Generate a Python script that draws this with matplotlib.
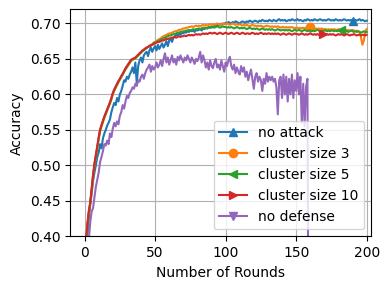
import matplotlib
matplotlib.use("Agg")
import matplotlib.pyplot as plt

rounds = list(range(1, 201))

no_attack = [
    0.370, 0.400, 0.425, 0.445, 0.460, 0.478, 0.490, 0.500, 0.512, 0.518,
    0.530, 0.524, 0.538, 0.545, 0.550, 0.556, 0.560, 0.565, 0.575, 0.582,
    0.588, 0.585, 0.595, 0.590, 0.600, 0.605, 0.612, 0.620, 0.618, 0.625,
    0.622, 0.628, 0.632, 0.638, 0.630, 0.645, 0.615, 0.640, 0.648, 0.652,
    0.645, 0.655, 0.658, 0.660, 0.654, 0.662, 0.666, 0.660, 0.665, 0.668,
    0.662, 0.670, 0.664, 0.668, 0.672, 0.666, 0.670, 0.675, 0.668, 0.676,
    0.678, 0.674, 0.680, 0.682, 0.684, 0.683, 0.686, 0.684, 0.687, 0.686,
    0.688, 0.687, 0.689, 0.688, 0.690, 0.689, 0.690, 0.688, 0.691, 0.690,
    0.691, 0.692, 0.690, 0.693, 0.692, 0.694, 0.693, 0.695, 0.694, 0.696,
    0.695, 0.697, 0.696, 0.698, 0.697, 0.699, 0.698, 0.700, 0.699, 0.701,
    0.700, 0.702, 0.701, 0.700, 0.702, 0.701, 0.703, 0.702, 0.701, 0.700,
    0.702, 0.703, 0.702, 0.701, 0.703, 0.702, 0.704, 0.703, 0.702, 0.703,
    0.704, 0.703, 0.702, 0.704, 0.703, 0.705, 0.704, 0.703, 0.704, 0.703,
    0.705, 0.704, 0.703, 0.705, 0.704, 0.703, 0.705, 0.706, 0.704, 0.705,
    0.704, 0.705, 0.703, 0.704, 0.705, 0.704, 0.706, 0.705, 0.704, 0.705,
    0.706, 0.704, 0.705, 0.704, 0.703, 0.705, 0.704, 0.706, 0.705, 0.704,
    0.705, 0.704, 0.706, 0.705, 0.704, 0.705, 0.706, 0.705, 0.704, 0.705,
    0.704, 0.705, 0.706, 0.705, 0.704, 0.705, 0.704, 0.706, 0.705, 0.704,
    0.705, 0.704, 0.705, 0.706, 0.705, 0.704, 0.705, 0.704, 0.705, 0.703,
    0.704, 0.705, 0.704, 0.705, 0.706, 0.704, 0.705, 0.704, 0.703, 0.704,
]

cluster3 = [
    0.390, 0.415, 0.433, 0.446, 0.464, 0.484, 0.500, 0.513, 0.525, 0.537,
    0.548, 0.555, 0.561, 0.567, 0.572, 0.577, 0.582, 0.587, 0.593, 0.600,
    0.605, 0.609, 0.613, 0.617, 0.621, 0.624, 0.628, 0.632, 0.635, 0.638,
    0.641, 0.644, 0.647, 0.649, 0.650, 0.651, 0.653, 0.655, 0.657, 0.659,
    0.661, 0.663, 0.664, 0.666, 0.667, 0.669, 0.670, 0.671, 0.673, 0.674,
    0.675, 0.677, 0.678, 0.679, 0.681, 0.682, 0.683, 0.684, 0.685, 0.686,
    0.686, 0.687, 0.688, 0.689, 0.689, 0.690, 0.691, 0.691, 0.692, 0.693,
    0.693, 0.694, 0.694, 0.695, 0.695, 0.696, 0.695, 0.696, 0.697, 0.696,
    0.697, 0.696, 0.697, 0.698, 0.697, 0.698, 0.697, 0.698, 0.699, 0.698,
    0.699, 0.698, 0.699, 0.700, 0.699, 0.698, 0.699, 0.700, 0.699, 0.699,
    0.700, 0.699, 0.698, 0.699, 0.700, 0.699, 0.698, 0.699, 0.698, 0.699,
    0.698, 0.697, 0.698, 0.697, 0.698, 0.697, 0.696, 0.697, 0.698, 0.697,
    0.697, 0.696, 0.697, 0.696, 0.697, 0.696, 0.695, 0.696, 0.697, 0.696,
    0.696, 0.695, 0.696, 0.695, 0.696, 0.695, 0.696, 0.695, 0.694, 0.695,
    0.695, 0.694, 0.695, 0.694, 0.695, 0.694, 0.695, 0.694, 0.693, 0.694,
    0.694, 0.693, 0.694, 0.693, 0.694, 0.693, 0.694, 0.695, 0.696, 0.695,
    0.694, 0.693, 0.692, 0.693, 0.692, 0.693, 0.692, 0.693, 0.692, 0.692,
    0.692, 0.691, 0.692, 0.691, 0.692, 0.691, 0.692, 0.691, 0.691, 0.692,
    0.691, 0.690, 0.691, 0.690, 0.691, 0.690, 0.691, 0.690, 0.690, 0.691,
    0.690, 0.689, 0.690, 0.689, 0.688, 0.680, 0.670, 0.676, 0.689, 0.692,
]

cluster5 = [
    0.392, 0.416, 0.434, 0.447, 0.465, 0.485, 0.501, 0.514, 0.526, 0.538,
    0.549, 0.556, 0.562, 0.568, 0.573, 0.578, 0.583, 0.588, 0.594, 0.601,
    0.606, 0.610, 0.614, 0.618, 0.621, 0.625, 0.628, 0.632, 0.636, 0.639,
    0.642, 0.645, 0.648, 0.649, 0.650, 0.651, 0.653, 0.655, 0.657, 0.659,
    0.661, 0.662, 0.664, 0.665, 0.667, 0.668, 0.669, 0.670, 0.672, 0.673,
    0.674, 0.675, 0.676, 0.677, 0.678, 0.679, 0.680, 0.681, 0.682, 0.683,
    0.683, 0.684, 0.685, 0.685, 0.686, 0.687, 0.687, 0.688, 0.688, 0.689,
    0.689, 0.690, 0.690, 0.691, 0.690, 0.691, 0.692, 0.691, 0.692, 0.692,
    0.693, 0.692, 0.693, 0.694, 0.693, 0.694, 0.693, 0.694, 0.695, 0.694,
    0.695, 0.694, 0.695, 0.696, 0.695, 0.694, 0.695, 0.696, 0.695, 0.695,
    0.694, 0.695, 0.694, 0.695, 0.694, 0.693, 0.694, 0.695, 0.694, 0.693,
    0.694, 0.693, 0.694, 0.693, 0.692, 0.693, 0.694, 0.693, 0.692, 0.693,
    0.692, 0.693, 0.692, 0.691, 0.692, 0.693, 0.692, 0.691, 0.692, 0.691,
    0.692, 0.691, 0.692, 0.691, 0.690, 0.691, 0.692, 0.691, 0.690, 0.691,
    0.691, 0.690, 0.691, 0.690, 0.691, 0.690, 0.689, 0.690, 0.691, 0.690,
    0.690, 0.691, 0.690, 0.689, 0.690, 0.691, 0.690, 0.689, 0.690, 0.690,
    0.689, 0.690, 0.689, 0.690, 0.691, 0.690, 0.689, 0.690, 0.689, 0.690,
    0.690, 0.689, 0.690, 0.689, 0.690, 0.690, 0.689, 0.690, 0.689, 0.690,
    0.690, 0.691, 0.690, 0.689, 0.690, 0.689, 0.688, 0.689, 0.690, 0.689,
    0.688, 0.689, 0.688, 0.689, 0.688, 0.687, 0.688, 0.689, 0.688, 0.688,
]

cluster10 = [
    0.395, 0.418, 0.436, 0.448, 0.467, 0.487, 0.503, 0.515, 0.527, 0.540,
    0.551, 0.557, 0.563, 0.569, 0.574, 0.579, 0.584, 0.589, 0.595, 0.602,
    0.607, 0.611, 0.615, 0.619, 0.622, 0.626, 0.629, 0.633, 0.637, 0.640,
    0.643, 0.646, 0.649, 0.650, 0.651, 0.652, 0.654, 0.656, 0.658, 0.660,
    0.662, 0.663, 0.665, 0.666, 0.667, 0.668, 0.669, 0.670, 0.671, 0.672,
    0.673, 0.674, 0.674, 0.675, 0.676, 0.676, 0.677, 0.678, 0.678, 0.679,
    0.679, 0.680, 0.680, 0.681, 0.680, 0.681, 0.682, 0.681, 0.682, 0.682,
    0.683, 0.682, 0.683, 0.684, 0.683, 0.684, 0.683, 0.684, 0.685, 0.684,
    0.685, 0.684, 0.685, 0.686, 0.685, 0.686, 0.685, 0.686, 0.687, 0.686,
    0.686, 0.687, 0.686, 0.685, 0.686, 0.687, 0.686, 0.685, 0.686, 0.687,
    0.686, 0.685, 0.686, 0.687, 0.686, 0.685, 0.686, 0.687, 0.686, 0.685,
    0.686, 0.687, 0.686, 0.685, 0.686, 0.686, 0.685, 0.686, 0.687, 0.686,
    0.685, 0.686, 0.685, 0.686, 0.687, 0.686, 0.685, 0.686, 0.685, 0.686,
    0.686, 0.685, 0.686, 0.685, 0.686, 0.685, 0.686, 0.685, 0.684, 0.685,
    0.686, 0.685, 0.684, 0.685, 0.686, 0.685, 0.684, 0.685, 0.686, 0.685,
    0.685, 0.684, 0.685, 0.686, 0.685, 0.684, 0.685, 0.684, 0.685, 0.686,
    0.685, 0.684, 0.685, 0.684, 0.685, 0.684, 0.685, 0.684, 0.685, 0.685,
    0.684, 0.685, 0.684, 0.685, 0.684, 0.685, 0.684, 0.683, 0.684, 0.685,
    0.684, 0.685, 0.684, 0.683, 0.684, 0.685, 0.684, 0.683, 0.684, 0.684,
    0.685, 0.684, 0.683, 0.684, 0.684, 0.683, 0.684, 0.684, 0.683, 0.684,
]

no_defense = [
    0.330, 0.370, 0.395, 0.420, 0.435, 0.440, 0.455, 0.470, 0.480, 0.490,
    0.505, 0.512, 0.520, 0.530, 0.528, 0.535, 0.530, 0.545, 0.540, 0.552,
    0.560, 0.555, 0.562, 0.558, 0.570, 0.575, 0.585, 0.580, 0.590, 0.598,
    0.595, 0.602, 0.605, 0.610, 0.608, 0.615, 0.612, 0.620, 0.618, 0.625,
    0.628, 0.622, 0.630, 0.635, 0.638, 0.642, 0.632, 0.640, 0.635, 0.638,
    0.645, 0.638, 0.642, 0.648, 0.640, 0.650, 0.658, 0.645, 0.652, 0.642,
    0.648, 0.655, 0.645, 0.650, 0.642, 0.653, 0.648, 0.655, 0.650, 0.645,
    0.652, 0.648, 0.655, 0.650, 0.645, 0.652, 0.648, 0.643, 0.650, 0.647,
    0.652, 0.660, 0.645, 0.655, 0.648, 0.638, 0.645, 0.635, 0.648, 0.640,
    0.637, 0.645, 0.650, 0.638, 0.642, 0.635, 0.648, 0.640, 0.632, 0.645,
    0.640, 0.648, 0.653, 0.640, 0.635, 0.642, 0.630, 0.638, 0.632, 0.628,
    0.640, 0.632, 0.638, 0.625, 0.632, 0.620, 0.628, 0.635, 0.622, 0.608,
    0.625, 0.630, 0.618, 0.625, 0.620, 0.605, 0.622, 0.615, 0.630, 0.618,
    0.625, 0.620, 0.625, 0.618, 0.622, 0.610, 0.572, 0.620, 0.625, 0.595,
    0.628, 0.600, 0.625, 0.590, 0.622, 0.600, 0.628, 0.595, 0.620, 0.605,
    0.630, 0.600, 0.625, 0.560, 0.615, 0.555, 0.610, 0.622, 0.100, 0.100,
    0.100, 0.100, 0.100, 0.100, 0.100, 0.100, 0.100, 0.100, 0.100, 0.100,
    0.100, 0.100, 0.100, 0.100, 0.100, 0.100, 0.100, 0.100, 0.100, 0.100,
    0.100, 0.100, 0.100, 0.100, 0.100, 0.100, 0.100, 0.100, 0.100, 0.100,
    0.100, 0.100, 0.100, 0.100, 0.100, 0.100, 0.100, 0.100, 0.100, 0.100,
]

fig = plt.figure(figsize=(3.9, 2.89), dpi=100)
ax = fig.add_axes([0.180, 0.182, 0.771, 0.786])

ax.plot(rounds, no_attack, marker="^", markevery=[189], label="no attack")
ax.plot(rounds, cluster3, marker="o", markevery=[159], label="cluster size 3")
ax.plot(rounds, cluster5, marker="<", markevery=[181], label="cluster size 5")
ax.plot(rounds, cluster10, marker=">", markevery=[168], label="cluster size 10")
ax.plot(rounds, no_defense, marker="v", markevery=[180], label="no defense")

ax.set_xlim(-10.2, 203)
ax.set_ylim(0.40, 0.72)
ax.set_xlabel("Number of Rounds")
ax.set_ylabel("Accuracy")
ax.legend(loc="lower right")
ax.grid()

fig.savefig("out.png", dpi=100)
